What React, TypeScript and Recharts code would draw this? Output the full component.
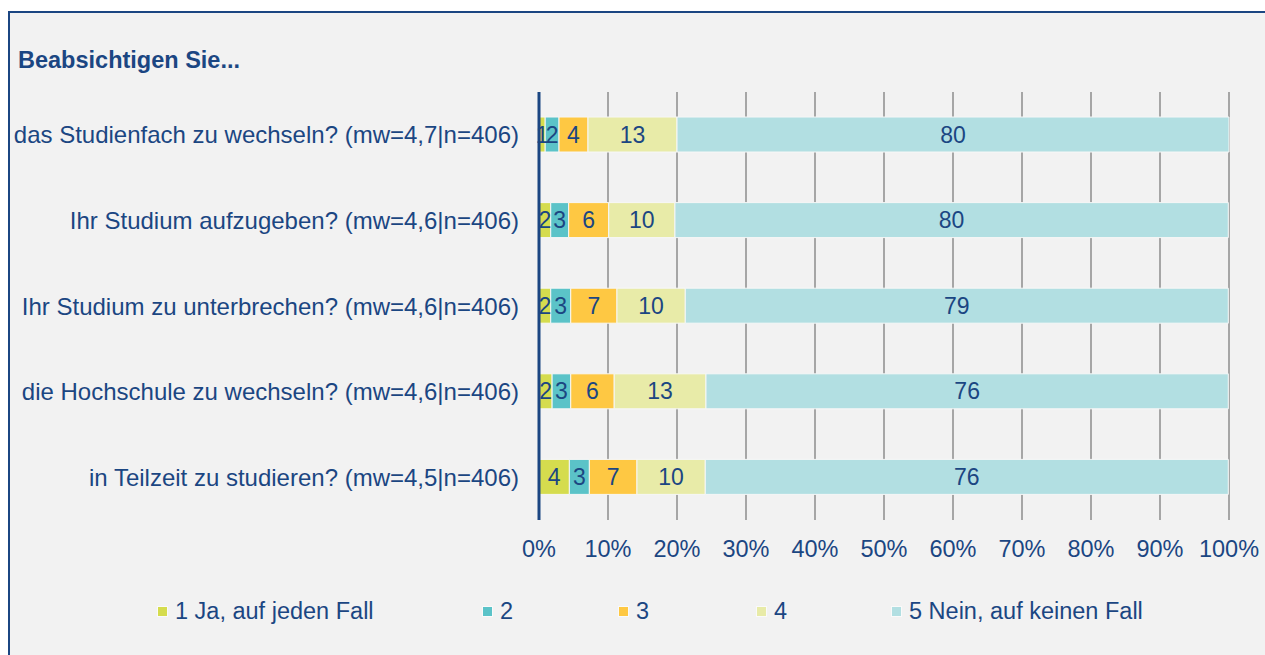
import React from 'react';
import {
  BarChart,
  Bar,
  XAxis,
  YAxis,
  CartesianGrid,
  LabelList
} from 'recharts';

const categories = [
  'das Studienfach zu wechseln? (mw=4,7|n=406)',
  'Ihr Studium aufzugeben? (mw=4,6|n=406)',
  'Ihr Studium zu unterbrechen? (mw=4,6|n=406)',
  'die Hochschule zu wechseln? (mw=4,6|n=406)',
  'in Teilzeit zu studieren? (mw=4,5|n=406)'
];

const answer1 = [0.9, 1.7, 1.7, 1.9, 4.4];
const answer2 = [2.0, 2.6, 2.9, 2.7, 2.9];
const answer3 = [4.2, 5.8, 6.7, 6.3, 6.9];
const answer4 = [12.9, 9.6, 9.9, 13.3, 9.9];
const answer5 = [80.0, 80.2, 78.7, 75.7, 75.8];

const seriesNames = ['1 Ja, auf jeden Fall', '2', '3', '4', '5 Nein, auf keinen Fall'];
const seriesColors = ['#d5dc4e', '#5bc3c8', '#fec843', '#e8eba8', '#b2dfe2'];
const seriesKeys = ['a1', 'a2', 'a3', 'a4', 'a5'];

const xTicks = [0, 10, 20, 30, 40, 50, 60, 70, 80, 90, 100];

const data = categories.map((name, i) => ({
  name,
  a1: answer1[i],
  a2: answer2[i],
  a3: answer3[i],
  a4: answer4[i],
  a5: answer5[i]
}));

const TEXT = '#1b4682';
const FONT = '"Liberation Sans", Arial, sans-serif';

// legend item widths, taken from the original layout
const legendWidths = [325, 136, 138, 135, 300];

export default function App() {
  return (
    <div
      style={{
        position: 'absolute',
        left: 0,
        top: 0,
        width: 1265,
        height: 655,
        overflow: 'hidden',
        background: '#ffffff',
        fontFamily: FONT
      }}
    >
      <div
        style={{
          position: 'absolute',
          left: 8,
          top: 11,
          width: 1300,
          height: 700,
          background: '#f2f2f2',
          borderTop: `2px solid ${TEXT}`,
          borderLeft: `2px solid ${TEXT}`
        }}
      />
      <div
        style={{
          position: 'absolute',
          left: 18,
          top: 46,
          fontSize: 23.5,
          lineHeight: '28px',
          fontWeight: 'bold',
          color: TEXT
        }}
      >
        Beabsichtigen Sie...
      </div>

      <div style={{ position: 'absolute', left: 0, top: 0 }}>
        <BarChart
          width={1265}
          height={655}
          data={data}
          layout="vertical"
          margin={{ top: 92, right: 36, left: 0, bottom: 105 }}
        >
          <CartesianGrid horizontal={false} stroke="#a6a6a6" strokeWidth={2} />
          <XAxis
            type="number"
            domain={[0, 100]}
            ticks={xTicks}
            tickFormatter={(v: number) => `${v}%`}
            axisLine={false}
            tickLine={false}
            tickSize={0}
            tickMargin={20}
            height={30}
            interval={0}
            tick={{ fontSize: 23.5, fill: TEXT, fontFamily: FONT }}
          />
          <YAxis
            type="category"
            dataKey="name"
            width={539}
            axisLine={{ stroke: TEXT, strokeWidth: 3 }}
            tickLine={false}
            tickSize={0}
            tickMargin={20}
            interval={0}
            tick={{ fontSize: 24, fill: TEXT, fontFamily: FONT }}
          />
          {seriesKeys.map((key, i) => (
            <Bar
              key={key}
              dataKey={key}
              name={seriesNames[i]}
              stackId="s"
              fill={seriesColors[i]}
              stroke="#f7f7f7"
              strokeWidth={1}
              barSize={35}
              isAnimationActive={false}
            >
              <LabelList
                dataKey={key}
                position="center"
                formatter={(v: any) => Math.round(Number(v))}
                style={{ fontSize: 23, fill: TEXT, fontFamily: FONT }}
              />
            </Bar>
          ))}
        </BarChart>
      </div>

      <div
        style={{
          position: 'absolute',
          left: 157,
          top: 597,
          display: 'flex',
          alignItems: 'center',
          fontSize: 23.5,
          lineHeight: '28px',
          color: TEXT
        }}
      >
        {seriesNames.map((n, i) => (
          <div
            key={n}
            style={{ width: legendWidths[i], display: 'flex', alignItems: 'center', whiteSpace: 'nowrap' }}
          >
            <span
              style={{
                display: 'inline-block',
                width: 9,
                height: 9,
                background: seriesColors[i],
                border: '1px solid #fafafa',
                marginRight: 7
              }}
            />
            <span>{n}</span>
          </div>
        ))}
      </div>
    </div>
  );
}
